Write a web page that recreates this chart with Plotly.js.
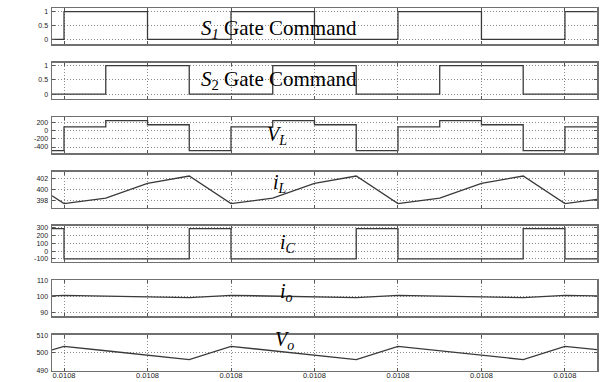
<!DOCTYPE html>
<html>
<head>
<meta charset="utf-8">
<script src="https://cdn.plot.ly/plotly-3.0.1.min.js"></script>
<style>html,body{margin:0;padding:0;background:#fff;}#chart{width:602px;height:382px;}</style>
</head>
<body>
<div id="chart"></div>
<script>
// time breakpoints (s)
const times = [0.01079928, 0.0108, 0.0108025, 0.010805, 0.0108075, 0.01081, 0.0108125, 0.010815, 0.0108175, 0.01082, 0.0108225, 0.010825, 0.0108275, 0.01083, 0.01083192];
// series values at breakpoints
const s1 = [0, 1, 1, 0, 0, 1, 1, 0, 0, 1, 1, 0, 0, 1, 1];
const s2 = [0, 0, 1, 1, 0, 0, 1, 1, 0, 0, 1, 1, 0, 0, 0];
const vL = [-490, 100, 250, 150, -490, 100, 250, 150, -490, 100, 250, 150, -490, 100, 100];
const iL = [398.9, 397.5, 398.45, 401.1, 402.4, 397.5, 398.45, 401.1, 402.4, 397.5, 398.45, 401.1, 402.4, 397.5, 398.25];
const iC = [290, -100, -100, -100, 290, -100, -100, -100, 290, -100, -100, -100, 290, -100, -100];
const io = [100.3, 100.7, 100.2, 99.7, 99.2, 100.7, 100.2, 99.7, 99.2, 100.7, 100.2, 99.7, 99.2, 100.7, 100.35];
const vo = [501.6, 503.6, 501.1, 498.6, 496.1, 503.6, 501.1, 498.6, 496.1, 503.6, 501.1, 498.6, 496.1, 503.6, 501.7];

// tick labels
const xTickVals = [0.0108, 0.010805, 0.01081, 0.010815, 0.01082, 0.010825, 0.01083];
const xTickText = ["0.0108", "0.0108", "0.0108", "0.0108", "0.0108", "0.0108", "0.0108"];
const gateTicks = [0, 0.5, 1];
const gateTickText = ["0", "0.5", "1"];
const vLTicks = [-400, -200, 0, 200];
const iLTicks = [398, 400, 402];
const iCTicks = [-100, 0, 100, 200, 300];
const ioTicks = [90, 100, 110];
const voTicks = [490, 500, 510];

const labels = [
  "<i>S</i><sub><i>1</i></sub> Gate Command",
  "<i>S</i><sub>2</sub> Gate Command",
  "<i>V<sub>L</sub></i>",
  "<i>i<sub>L</sub></i>",
  "<i>i<sub>C</sub></i>",
  "<i>i<sub>o</sub></i>",
  "<i>V<sub>o</sub></i>"
];

const series = [
  {y: s1, shape: 'hv', ticks: gateTicks, text: gateTickText, range: [-0.18, 1.12]},
  {y: s2, shape: 'hv', ticks: gateTicks, text: gateTickText, range: [-0.16, 1.10]},
  {y: vL, shape: 'hv', ticks: vLTicks, range: [-550, 340]},
  {y: iL, shape: 'linear', ticks: iLTicks, range: [396.8, 403.2]},
  {y: iC, shape: 'hv', ticks: iCTicks, range: [-140, 325]},
  {y: io, shape: 'linear', ticks: ioTicks, range: [87.4, 110.2]},
  {y: vo, shape: 'linear', ticks: voTicks, range: [489.8, 510.2]}
];

const domains = [
  [0.8840, 0.9783], [0.7416, 0.8359], [0.5992, 0.6935], [0.4568, 0.5510],
  [0.3144, 0.4086], [0.1720, 0.2662], [0.0296, 0.1238]
];
const annPos = [
  [279, 29.5, 21], [279, 80, 21], [277, 136, 20], [280, 183, 20],
  [288, 243, 20], [286, 292, 20], [284, 340, 20]
];

const traces = [];
const layout = {
  width: 602, height: 382,
  margin: {l: 52, r: 5, t: 0, b: 0},
  paper_bgcolor: '#ffffff', plot_bgcolor: '#ffffff',
  showlegend: false,
  annotations: []
};

series.forEach((s, i) => {
  const n = i + 1;
  const xa = 'xaxis' + (n === 1 ? '' : n);
  const ya = 'yaxis' + (n === 1 ? '' : n);
  traces.push({
    x: times, y: s.y, type: 'scatter', mode: 'lines',
    xaxis: 'x' + (n === 1 ? '' : n), yaxis: 'y' + (n === 1 ? '' : n),
    line: {color: '#3a3a3a', width: 1.3, shape: s.shape},
    hoverinfo: 'skip'
  });
  const common = {
    showline: true, linecolor: '#707070', linewidth: 1.5, mirror: 'ticks',
    ticks: 'inside', ticklen: 3, tickcolor: '#555', tickwidth: 1,
    showgrid: true, gridcolor: '#8a8a8a', griddash: '1px,2px', gridwidth: 1,
    zeroline: false,
    tickfont: {family: 'Liberation Sans Narrow, Liberation Sans, Arial', size: 7, color: '#222'}
  };
  layout[xa] = Object.assign({}, common, {
    range: [times[0], times[times.length - 1]],
    anchor: 'y' + (n === 1 ? '' : n),
    tickmode: 'array', tickvals: xTickVals, ticktext: xTickText,
    showticklabels: n === 7,
    ticklabelstandoff: -3,
    tickfont: {family: 'Liberation Sans Narrow, Liberation Sans, Arial', size: 7.5, color: '#222'}
  });
  layout[ya] = Object.assign({}, common, {
    domain: domains[i], range: s.range,
    anchor: 'x' + (n === 1 ? '' : n),
    tickmode: 'array', tickvals: s.ticks,
    ticktext: s.text ? s.text : s.ticks.map(String),
    ticklabelstandoff: 1
  });
  const p = annPos[i];
  layout.annotations.push({
    text: labels[i], xref: 'paper', yref: 'paper',
    x: (p[0] - 52) / 545, y: 1 - p[1] / 382,
    xanchor: 'center', yanchor: 'middle', showarrow: false,
    font: {family: 'Liberation Serif, Times New Roman, serif', size: p[2], color: '#000'}
  });
});

Plotly.newPlot('chart', traces, layout, {displayModeBar: false, staticPlot: true});
</script>
</body>
</html>
